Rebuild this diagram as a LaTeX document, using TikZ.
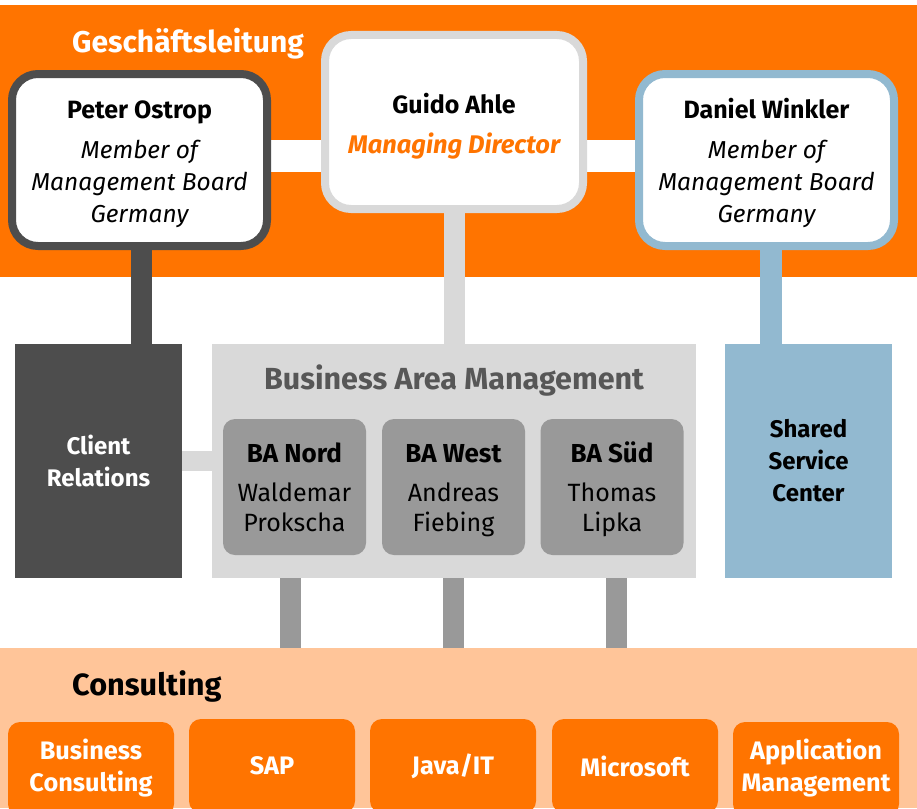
\documentclass[tikz,border=0pt]{standalone}
\usepackage{fontspec}
\setmainfont{Fira Sans}
\definecolor{orng}{RGB}{255,116,0}
\definecolor{dkgray}{RGB}{77,77,77}
\definecolor{ltgray}{RGB}{217,217,217}
\definecolor{midgray}{RGB}{153,153,153}
\definecolor{bluish}{RGB}{146,185,208}
\definecolor{peach}{RGB}{255,197,153}
\definecolor{titlegray}{RGB}{87,87,87}
\newcommand\topstrut[1]{\rule{0pt}{#1}}
\pgfdeclarelayer{bands}
\pgfdeclarelayer{links}
\pgfsetlayers{bands,links,main}
\tikzset{
  band/.style={rectangle, inner sep=0pt, anchor=north west},
  exec/.style={rectangle, rounded corners=26pt, line width=8pt, fill=white, align=center,
    inner sep=0pt, font=\fontsize{24.5}{32}\selectfont},
  unit/.style={rectangle, inner sep=0pt, align=center, minimum width=167pt,
    minimum height=234pt, font=\bfseries\fontsize{24}{32}\selectfont},
  ba/.style={rectangle, rounded corners=12pt, fill=midgray, inner sep=0pt, align=center,
    minimum width=143pt, minimum height=136pt, font=\fontsize{25}{30}\selectfont},
  cons/.style={rectangle, rounded corners=12pt, fill=orng, inner sep=0pt, align=center,
    minimum width=166pt, minimum height=94pt, text=white,
    font=\bfseries\fontsize{25.3}{32}\selectfont},
  link/.style={line width=#1},
  title/.style={inner sep=0pt, font=\bfseries\fontsize{#1}{32}\selectfont},
}
\begin{document}
\begin{tikzpicture}[x=1pt,y=-1pt]
\useasboundingbox (0,0) rectangle (917,808);

\begin{pgfonlayer}{bands}
\fill[white] (0,0) rectangle (917,808);
\node[band, fill=orng, minimum width=917pt, minimum height=272pt] (glband) at (0,5) {};
\node[band, fill=peach, minimum width=917pt, minimum height=160pt] (consband) at (0,648) {};
\end{pgfonlayer}

\node[title=30, anchor=west, text=white] (gltitle) at (72,43.5) {Geschäftsleitung};

% executives
\node[exec, draw=dkgray, minimum width=255pt, minimum height=172pt] (peter) at (139.5,160)
  {\topstrut{27pt}\fontsize{25}{32}\selectfont\bfseries Peter Ostrop\\[8pt] \itshape Member of\\ \itshape Management Board\\ \itshape Germany};
\node[exec, draw=ltgray, minimum width=258pt, minimum height=174pt] (guido) at (454,122)
  {\topstrut{29pt}\fontsize{25}{32}\selectfont\bfseries Guido Ahle\\[8pt] \color{orng}\fontsize{25.5}{32}\selectfont\bfseries\itshape Managing Director};
\node[exec, draw=bluish, minimum width=255pt, minimum height=172pt] (daniel) at (766.5,160)
  {\topstrut{27pt}\fontsize{25}{32}\selectfont\bfseries Daniel Winkler\\[8pt] \itshape Member of\\ \itshape Management Board\\ \itshape Germany};

% second level
\node[unit, fill=dkgray, text=white] (client) at (98.5,461) {Client\\Relations};
\node[rectangle, fill=ltgray, inner sep=0pt, minimum width=484pt, minimum height=234pt] (bam) at (454,461) {};
\node[title=30.5, text=titlegray] (bamtitle) at (454,381) {Business Area Management};
\node[unit, fill=bluish, text=black] (ssc) at (808.5,461) {Shared\\Service\\Center};

\node[ba] (banord) at (294.5,487) {\topstrut{28pt}\fontsize{26}{30}\selectfont\bfseries BA Nord\\[9pt] Waldemar\\ Prokscha\strut};
\node[ba] (bawest) at (453.5,487) {\topstrut{28pt}\fontsize{26}{30}\selectfont\bfseries BA West\\[9pt] Andreas\\ Fiebing\strut};
\node[ba] (basued) at (612,487) {\topstrut{28pt}\fontsize{26}{30}\selectfont\bfseries BA Süd\\[9pt] Thomas\\ Lipka\strut};

% consulting
\node[title=30.7, anchor=west, text=black] (constitle) at (72,686) {Consulting};
\node[cons] (c1) at (91,769) {\strut Business\\Consulting\strut};
\node[cons] (c2) at (272,766) {SAP};
\node[cons] (c3) at (453,766) {Java/IT};
\node[cons] (c4) at (635,766) {Microsoft};
\node[cons] (c5) at (816,769) {\strut Application\\Management\strut};

\begin{pgfonlayer}{links}
\draw[white, link=32pt] ([yshift=4pt]peter.center) -- ([yshift=4pt]daniel.center);
\draw[dkgray, link=21pt] ([xshift=2pt]peter.south) -- ([xshift=2pt]peter.south |- client.north);
\draw[ltgray, link=21pt] (guido.south) -- (guido.south |- bam.north);
\draw[bluish, link=22pt] ([xshift=4.5pt]daniel.south) -- ([xshift=4.5pt]daniel.south |- ssc.north);
\draw[ltgray, link=20pt] (client.east) -- (client.east -| bam.west);
\draw[midgray, link=21pt] ([xshift=-4pt]banord.south) -- ([xshift=-4pt]banord.south |- consband.north);
\draw[midgray, link=21pt] (bawest.south) -- (bawest.south |- consband.north);
\draw[midgray, link=21pt] ([xshift=4.5pt]basued.south) -- ([xshift=4.5pt]basued.south |- consband.north);
\end{pgfonlayer}
\end{tikzpicture}
\end{document}
